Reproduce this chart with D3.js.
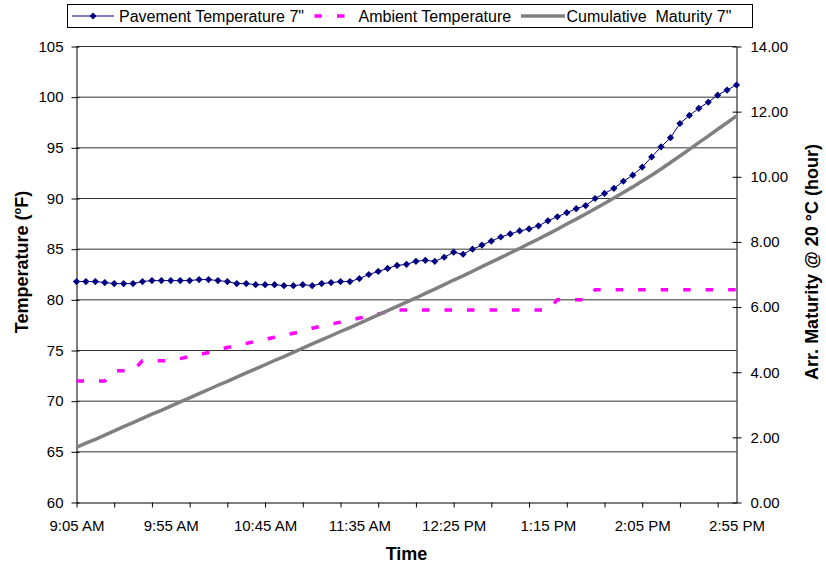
<!DOCTYPE html>
<html>
<head>
<meta charset="utf-8">
<script src="https://cdn.jsdelivr.net/npm/d3@7"></script>
<style>
  body { margin: 0; background: #fff; }
  svg { display: block; font-family: "Liberation Sans", Arial, sans-serif; }
</style>
</head>
<body>
<svg id="chart" width="826" height="571"></svg>
<script>
// Readings every 5 minutes
const times = [
  "9:05 AM","9:10 AM","9:15 AM","9:20 AM","9:25 AM","9:30 AM","9:35 AM","9:40 AM","9:45 AM","9:50 AM","9:55 AM",
  "10:00 AM","10:05 AM","10:10 AM","10:15 AM","10:20 AM","10:25 AM","10:30 AM","10:35 AM","10:40 AM","10:45 AM","10:50 AM","10:55 AM",
  "11:00 AM","11:05 AM","11:10 AM","11:15 AM","11:20 AM","11:25 AM","11:30 AM","11:35 AM","11:40 AM","11:45 AM","11:50 AM","11:55 AM",
  "12:00 PM","12:05 PM","12:10 PM","12:15 PM","12:20 PM","12:25 PM","12:30 PM","12:35 PM","12:40 PM","12:45 PM","12:50 PM","12:55 PM",
  "1:00 PM","1:05 PM","1:10 PM","1:15 PM","1:20 PM","1:25 PM","1:30 PM","1:35 PM","1:40 PM","1:45 PM","1:50 PM","1:55 PM",
  "2:00 PM","2:05 PM","2:10 PM","2:15 PM","2:20 PM","2:25 PM","2:30 PM","2:35 PM","2:40 PM","2:45 PM","2:50 PM","2:55 PM"
];
const xLabels = ["9:05 AM","9:55 AM","10:45 AM","11:35 AM","12:25 PM","1:15 PM","2:05 PM","2:55 PM"];

// Pavement temperature at 7" depth (°F)
const pavement = [
  81.8, 81.8, 81.8, 81.7, 81.6, 81.6, 81.6, 81.8, 81.9, 81.9,
  81.9, 81.9, 81.9, 82.0, 82.0, 81.9, 81.8, 81.6, 81.6, 81.5,
  81.5, 81.5, 81.4, 81.4, 81.5, 81.4, 81.6, 81.7, 81.8, 81.8,
  82.1, 82.5, 82.8, 83.1, 83.4, 83.5, 83.8, 83.9, 83.8, 84.2,
  84.7, 84.5, 85.0, 85.4, 85.8, 86.2, 86.5, 86.8, 87.0, 87.3,
  87.8, 88.2, 88.6, 89.0, 89.3, 90.0, 90.5, 91.0, 91.7, 92.3,
  93.1, 94.1, 95.1, 96.0, 97.4, 98.2, 98.9, 99.5, 100.2, 100.7,
  101.2
];

// Ambient air temperature (°F)
const ambient = [
  72, 72, 72, 72, 73, 73, 73, 74, 74, 74,
  74, 74.2, 74.4, 74.6, 74.8, 75.1, 75.3, 75.5, 75.7, 75.9,
  76.1, 76.3, 76.5, 76.7, 76.9, 77.2, 77.4, 77.6, 77.8, 78.0,
  78.2, 78.4, 78.6, 78.8, 79, 79, 79, 79, 79, 79,
  79, 79, 79, 79, 79, 79, 79, 79, 79, 79,
  79, 80, 80, 80, 80, 81, 81, 81, 81, 81,
  81, 81, 81, 81, 81, 81, 81, 81, 81, 81,
  81
];

// Cumulative Arrhenius maturity at 7" (equivalent hours @ 20 °C)
const maturity = [
  1.69, 1.82, 1.94, 2.07, 2.20, 2.33, 2.45, 2.58, 2.71, 2.83,
  2.96, 3.09, 3.21, 3.34, 3.47, 3.60, 3.72, 3.85, 3.98, 4.10,
  4.23, 4.36, 4.48, 4.61, 4.74, 4.87, 4.99, 5.12, 5.25, 5.37,
  5.50, 5.63, 5.76, 5.89, 6.02, 6.15, 6.28, 6.42, 6.55, 6.69,
  6.83, 6.96, 7.10, 7.24, 7.38, 7.52, 7.66, 7.80, 7.95, 8.09,
  8.24, 8.39, 8.55, 8.70, 8.86, 9.02, 9.18, 9.35, 9.52, 9.69,
  9.87, 10.05, 10.24, 10.44, 10.64, 10.84, 11.05, 11.25, 11.46, 11.66,
  11.87
];

const tempTicks = [60, 65, 70, 75, 80, 85, 90, 95, 100, 105];
const maturityTicks = [0, 2, 4, 6, 8, 10, 12, 14];
const seriesNames = ["Pavement Temperature 7\"", "Ambient Temperature", "Cumulative  Maturity 7\""];

const colors = { pavement: "#000080", ambient: "#FF00FF", maturity: "#808080" };

const svg = d3.select("#chart");
svg.append("rect").attr("width", 826).attr("height", 571).attr("fill", "#fff");

const plotLeft = 76.5, plotRight = 736.5, plotTop = 46.5, plotBottom = 502.5;

const x = d3.scalePoint().domain(times).range([plotLeft, plotRight]);
const yT = d3.scaleLinear().domain([60, 105]).range([plotBottom, plotTop]);
const yM = d3.scaleLinear().domain([0, 14]).range([plotBottom, plotTop]);

// horizontal gridlines
svg.append("g")
  .selectAll("line")
  .data(tempTicks.filter(t => t > 60))
  .join("line")
  .attr("x1", plotLeft).attr("x2", plotRight)
  .attr("y1", d => yT(d)).attr("y2", d => yT(d))
  .attr("stroke", "#333").attr("stroke-width", 1);

const tickFont = 15;

// left axis
const gL = svg.append("g").attr("transform", `translate(${plotLeft},0)`)
  .call(d3.axisLeft(yT).tickValues(tempTicks).tickSize(5).tickSizeOuter(0).tickPadding(8));
gL.selectAll(".tick line").attr("x1", 3).attr("x2", -5);

// right axis
const gR = svg.append("g").attr("transform", `translate(${plotRight},0)`)
  .call(d3.axisRight(yM).tickValues(maturityTicks).tickFormat(d3.format(".2f"))
    .tickSize(5).tickSizeOuter(0).tickPadding(9));
gR.selectAll(".tick line").attr("x1", -4).attr("x2", 5);

// bottom axis: minor tick marks every 20 minutes
const gB = svg.append("g").attr("transform", `translate(0,${plotBottom})`)
  .call(d3.axisBottom(x).tickValues(times.filter((d, i) => i % 4 === 0))
    .tickSize(5).tickSizeOuter(0).tickFormat(""));

// bottom axis labels every 50 minutes
const gBL = svg.append("g").attr("transform", `translate(0,${plotBottom})`)
  .call(d3.axisBottom(x).tickValues(xLabels).tickSize(0).tickPadding(18));
gBL.select(".domain").remove();

[gL, gR, gB, gBL].forEach(g => {
  g.attr("font-family", null).attr("font-size", tickFont);
  g.selectAll(".domain").attr("stroke", "#000");
  g.selectAll(".tick line").attr("stroke", "#000");
  g.selectAll("text").attr("fill", "#000");
});

// series
const tempLine = d3.line().x((d, i) => x(times[i])).y(d => yT(d));
svg.append("path").datum(ambient)
  .attr("d", tempLine)
  .attr("fill", "none").attr("stroke", colors.ambient)
  .attr("stroke-width", 3.5).attr("stroke-dasharray", "7.5,15");

svg.append("path").datum(pavement)
  .attr("d", tempLine)
  .attr("fill", "none").attr("stroke", colors.pavement).attr("stroke-width", 1);

const diamond = r => `M0,${-r}L${r},0L0,${r}L${-r},0Z`;
svg.append("g").selectAll("path")
  .data(pavement)
  .join("path")
  .attr("d", diamond(3.6))
  .attr("transform", (d, i) => `translate(${x(times[i])},${yT(d)})`)
  .attr("fill", colors.pavement);

svg.append("path").datum(maturity)
  .attr("d", d3.line().x((d, i) => x(times[i])).y(d => yM(d)))
  .attr("fill", "none").attr("stroke", colors.maturity).attr("stroke-width", 3.5);

// axis titles
svg.append("text")
  .attr("transform", "translate(28,262) rotate(-90)")
  .attr("text-anchor", "middle").attr("font-weight", "bold").attr("font-size", 18)
  .call(t => {
    t.append("tspan").text("Temperature (");
    t.append("tspan").attr("font-size", 11).attr("dy", -7).text("o");
    t.append("tspan").attr("dy", 7).text("F)");
  });

svg.append("text")
  .attr("transform", "translate(818,262) rotate(-90)")
  .attr("text-anchor", "middle").attr("font-weight", "bold").attr("font-size", 18)
  .text("Arr. Maturity @ 20 °C (hour)");

svg.append("text")
  .attr("x", (plotLeft + plotRight) / 2).attr("y", 560)
  .attr("text-anchor", "middle").attr("font-weight", "bold").attr("font-size", 18)
  .text("Time");

// legend
const lg = svg.append("g");
lg.append("rect").attr("x", 67.5).attr("y", 4.5).attr("width", 685).attr("height", 23)
  .attr("fill", "#fff").attr("stroke", "#000");
const ly = 16;
lg.append("line").attr("x1", 72).attr("x2", 114).attr("y1", ly).attr("y2", ly)
  .attr("stroke", colors.pavement).attr("stroke-width", 1);
lg.append("path").attr("d", diamond(3.6)).attr("transform", `translate(93,${ly})`).attr("fill", colors.pavement);
lg.append("line").attr("x1", 314.5).attr("x2", 346).attr("y1", ly).attr("y2", ly)
  .attr("stroke", colors.ambient).attr("stroke-width", 3.5).attr("stroke-dasharray", "7.5,15");
lg.append("line").attr("x1", 521).attr("x2", 565).attr("y1", ly).attr("y2", ly)
  .attr("stroke", colors.maturity).attr("stroke-width", 3.5);
const legendX = [119, 358.5, 566.5];
lg.selectAll("text.lab").data(seriesNames).join("text")
  .attr("class", "lab")
  .attr("x", (d, i) => legendX[i]).attr("y", 21.5)
  .attr("font-size", 16)
  .style("white-space", "pre")
  .text(d => d);
</script>
</body>
</html>
